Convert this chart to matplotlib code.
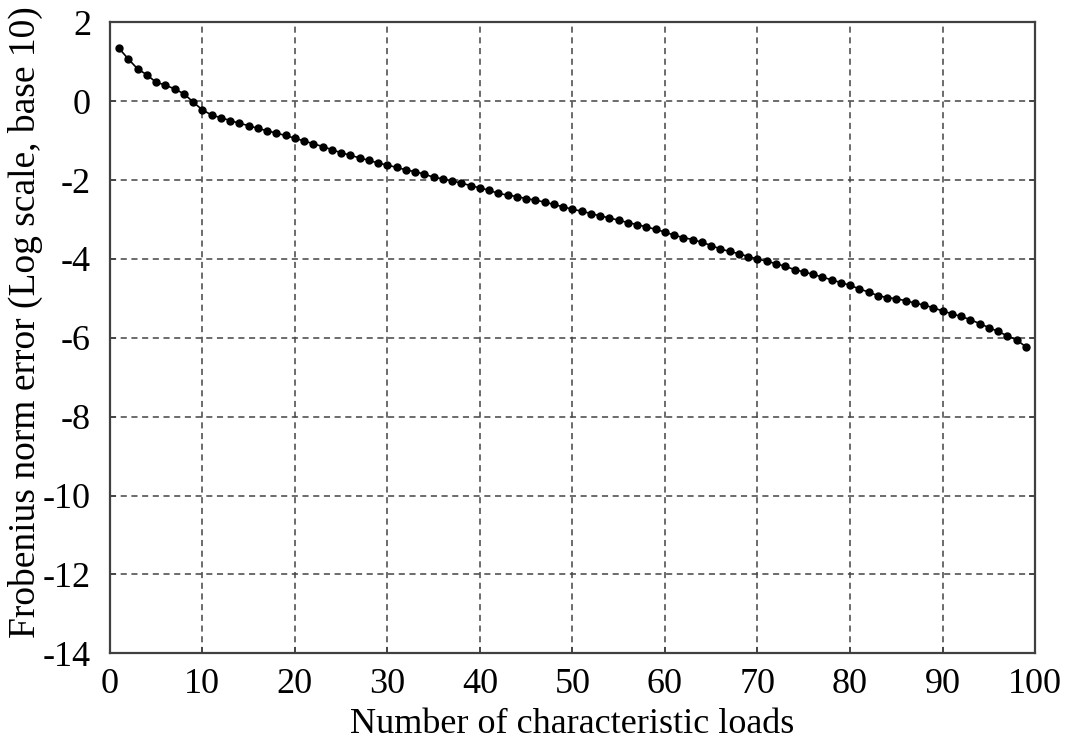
import numpy as np
import matplotlib.pyplot as plt
plt.switch_backend('agg')

plt.rcParams['font.family'] = ['Liberation Serif', 'DejaVu Serif']
plt.rcParams['axes.unicode_minus'] = False

# number of characteristic loads (1..99) and log10 of Frobenius norm error
n_loads = list(range(1, 100))
log_error = [
    1.34, 1.07, 0.82, 0.67, 0.48, 0.41, 0.31, 0.19, -0.02, -0.22,
    -0.35, -0.42, -0.49, -0.56, -0.62, -0.69, -0.75, -0.81, -0.87, -0.94,
    -1.01, -1.08, -1.15, -1.23, -1.31, -1.37, -1.44, -1.50, -1.57, -1.62,
    -1.68, -1.74, -1.79, -1.85, -1.93, -1.97, -2.02, -2.08, -2.14, -2.20,
    -2.26, -2.34, -2.38, -2.42, -2.47, -2.51, -2.56, -2.62, -2.68, -2.74,
    -2.79, -2.85, -2.91, -2.96, -3.02, -3.08, -3.13, -3.19, -3.25, -3.32,
    -3.40, -3.46, -3.51, -3.58, -3.66, -3.75, -3.81, -3.87, -3.94, -4.00,
    -4.06, -4.12, -4.19, -4.27, -4.33, -4.39, -4.46, -4.53, -4.60, -4.67,
    -4.76, -4.84, -4.93, -4.98, -5.01, -5.06, -5.12, -5.17, -5.24, -5.32,
    -5.39, -5.46, -5.54, -5.64, -5.74, -5.84, -5.95, -6.05, -6.23,
]
x_ticks = list(range(0, 101, 10))
y_ticks = list(range(-14, 3, 2))

fig = plt.figure(figsize=(10.66, 7.44), dpi=100)
ax = fig.add_axes([0.103, 0.122, 0.868, 0.848])

ax.plot(n_loads, log_error, color='black', linewidth=1.2,
        marker='o', markersize=5, zorder=3)

ax.set_xlim(0, 100)
ax.set_ylim(-14, 2)
ax.set_xticks(x_ticks)
ax.set_yticks(y_ticks)
ax.grid(True, color='#444444', linestyle=(0, (4, 3)), linewidth=1.1)

ax.tick_params(direction='in', length=4, width=1.2, labelsize=26,
               top=False, right=True, colors='#404040', labelcolor='black')
ax.tick_params(axis='x', pad=10.5)
ax.tick_params(axis='y', pad=13.5)
for spine in ax.spines.values():
    spine.set_color('#404040')
    spine.set_linewidth(1.6)

ax.set_xlabel('Number of characteristic loads', fontsize=26)
ax.set_ylabel('Frobenius norm error (Log scale, base 10)', fontsize=27)
ax.xaxis.set_label_coords(0.5, -0.087)
ax.yaxis.set_label_coords(-0.072, 0.525)

fig.savefig('out.png', dpi=100)
